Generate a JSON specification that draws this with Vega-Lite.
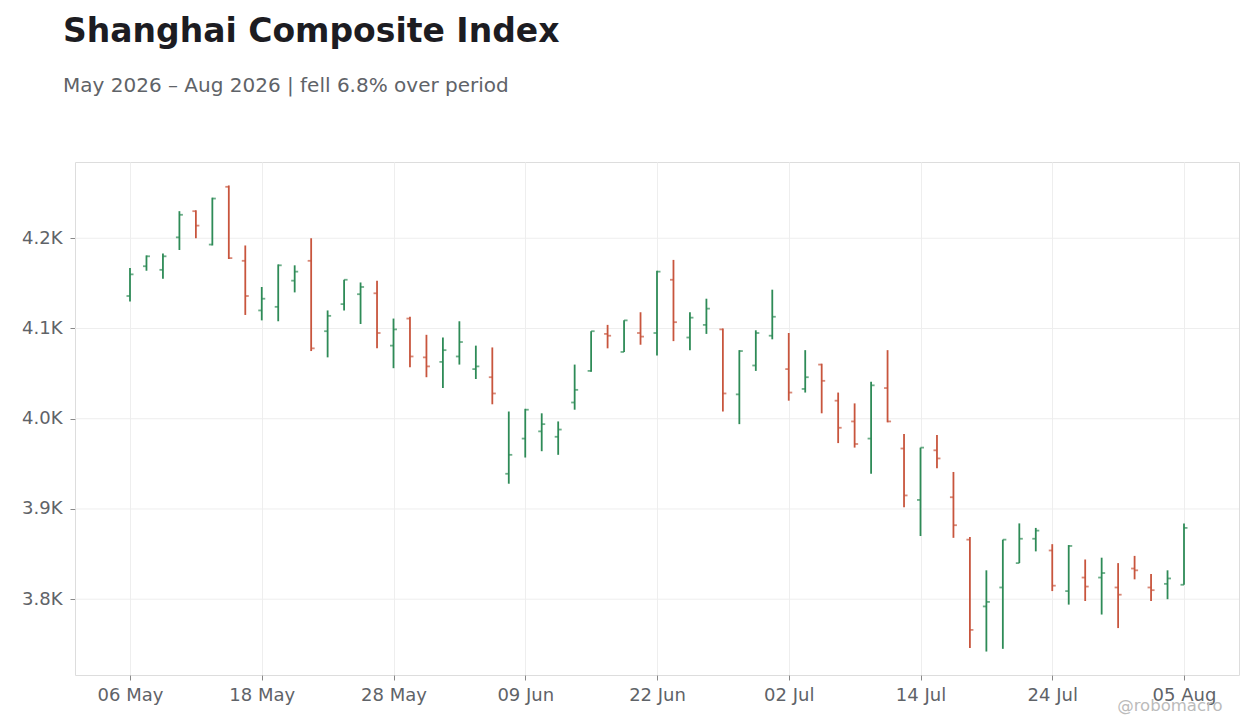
{
  "$schema": "https://vega.github.io/schema/vega-lite/v6.json",
  "width": 1164,
  "height": 513,
  "autosize": {"type": "none"},
  "padding": {"left": 75, "top": 162, "right": 21, "bottom": 53},
  "background": "white",
  "title": {
    "text": "Shanghai Composite Index",
    "subtitle": "May 2026 – Aug 2026 | fell 6.8% over period",
    "anchor": "start",
    "frame": "group",
    "dx": -12,
    "offset": 66,
    "font": "DejaVu Sans",
    "fontSize": 33,
    "fontWeight": "bold",
    "color": "#1c1c22",
    "subtitleFont": "DejaVu Sans",
    "subtitleFontSize": 20,
    "subtitleColor": "#5f6368",
    "subtitlePadding": 27
  },
  "datasets": {
    "gridlines": [
      {"level": 3800}, {"level": 3900}, {"level": 4000}, {"level": 4100}, {"level": 4200}
    ],
    "ohlc": [
      {"date": "2026-05-06", "open": 4136, "high": 4167, "low": 4130, "close": 4160},
      {"date": "2026-05-07", "open": 4169, "high": 4181, "low": 4164, "close": 4180},
      {"date": "2026-05-08", "open": 4165, "high": 4183, "low": 4155, "close": 4180},
      {"date": "2026-05-11", "open": 4201, "high": 4230, "low": 4187, "close": 4226},
      {"date": "2026-05-12", "open": 4230, "high": 4231, "low": 4200, "close": 4214},
      {"date": "2026-05-13", "open": 4193, "high": 4245, "low": 4192, "close": 4244},
      {"date": "2026-05-14", "open": 4257, "high": 4258.5, "low": 4177, "close": 4178},
      {"date": "2026-05-15", "open": 4175, "high": 4192, "low": 4115, "close": 4136},
      {"date": "2026-05-18", "open": 4120, "high": 4146, "low": 4109, "close": 4133},
      {"date": "2026-05-19", "open": 4124, "high": 4171, "low": 4108, "close": 4170},
      {"date": "2026-05-20", "open": 4153, "high": 4170, "low": 4140, "close": 4163},
      {"date": "2026-05-21", "open": 4175, "high": 4200, "low": 4075, "close": 4078},
      {"date": "2026-05-22", "open": 4097, "high": 4120, "low": 4068, "close": 4114},
      {"date": "2026-05-25", "open": 4127, "high": 4154, "low": 4120, "close": 4154},
      {"date": "2026-05-26", "open": 4138, "high": 4151, "low": 4105, "close": 4146},
      {"date": "2026-05-27", "open": 4139, "high": 4153, "low": 4078, "close": 4095},
      {"date": "2026-05-28", "open": 4081, "high": 4111, "low": 4056, "close": 4099},
      {"date": "2026-05-29", "open": 4111, "high": 4113, "low": 4057, "close": 4069},
      {"date": "2026-06-01", "open": 4068, "high": 4093, "low": 4046, "close": 4058},
      {"date": "2026-06-02", "open": 4063, "high": 4090, "low": 4034, "close": 4076},
      {"date": "2026-06-03", "open": 4069, "high": 4108, "low": 4060, "close": 4085},
      {"date": "2026-06-04", "open": 4055, "high": 4081, "low": 4044, "close": 4058},
      {"date": "2026-06-05", "open": 4046, "high": 4079, "low": 4016, "close": 4028},
      {"date": "2026-06-08", "open": 3939, "high": 4008, "low": 3928, "close": 3960},
      {"date": "2026-06-09", "open": 3978, "high": 4011, "low": 3957, "close": 4010},
      {"date": "2026-06-10", "open": 3986, "high": 4006, "low": 3964, "close": 3994},
      {"date": "2026-06-11", "open": 3980, "high": 3997, "low": 3960, "close": 3988},
      {"date": "2026-06-12", "open": 4018, "high": 4060, "low": 4010, "close": 4032},
      {"date": "2026-06-15", "open": 4053, "high": 4097, "low": 4052, "close": 4097},
      {"date": "2026-06-16", "open": 4094, "high": 4104, "low": 4078, "close": 4092},
      {"date": "2026-06-17", "open": 4074, "high": 4109, "low": 4074, "close": 4109},
      {"date": "2026-06-18", "open": 4095, "high": 4118, "low": 4082, "close": 4091},
      {"date": "2026-06-22", "open": 4095, "high": 4164, "low": 4070, "close": 4163},
      {"date": "2026-06-23", "open": 4154, "high": 4176, "low": 4086, "close": 4107},
      {"date": "2026-06-24", "open": 4090, "high": 4118, "low": 4076, "close": 4112},
      {"date": "2026-06-25", "open": 4104, "high": 4133, "low": 4094, "close": 4122},
      {"date": "2026-06-26", "open": 4099, "high": 4100, "low": 4008, "close": 4028},
      {"date": "2026-06-29", "open": 4027, "high": 4076, "low": 3994, "close": 4075},
      {"date": "2026-06-30", "open": 4059, "high": 4098, "low": 4053, "close": 4095},
      {"date": "2026-07-01", "open": 4092, "high": 4143, "low": 4088, "close": 4113},
      {"date": "2026-07-02", "open": 4055, "high": 4095, "low": 4020, "close": 4029},
      {"date": "2026-07-03", "open": 4033, "high": 4076, "low": 4029, "close": 4046},
      {"date": "2026-07-06", "open": 4060, "high": 4061, "low": 4006, "close": 4042},
      {"date": "2026-07-07", "open": 4020, "high": 4029, "low": 3973, "close": 3990},
      {"date": "2026-07-08", "open": 3997, "high": 4017, "low": 3968, "close": 3972},
      {"date": "2026-07-09", "open": 3978, "high": 4041, "low": 3939, "close": 4037},
      {"date": "2026-07-10", "open": 4034, "high": 4076, "low": 3996, "close": 3997},
      {"date": "2026-07-13", "open": 3967, "high": 3983, "low": 3902, "close": 3915},
      {"date": "2026-07-14", "open": 3910, "high": 3968, "low": 3870, "close": 3968},
      {"date": "2026-07-15", "open": 3965, "high": 3982, "low": 3945, "close": 3956},
      {"date": "2026-07-16", "open": 3913, "high": 3941, "low": 3868, "close": 3882},
      {"date": "2026-07-17", "open": 3866, "high": 3869, "low": 3746, "close": 3766},
      {"date": "2026-07-20", "open": 3792, "high": 3832, "low": 3742, "close": 3797},
      {"date": "2026-07-21", "open": 3813, "high": 3866, "low": 3745, "close": 3866},
      {"date": "2026-07-22", "open": 3840, "high": 3884, "low": 3840, "close": 3867},
      {"date": "2026-07-23", "open": 3867, "high": 3879, "low": 3853, "close": 3876},
      {"date": "2026-07-24", "open": 3854, "high": 3861, "low": 3809, "close": 3815},
      {"date": "2026-07-27", "open": 3809, "high": 3860, "low": 3794, "close": 3859},
      {"date": "2026-07-28", "open": 3824, "high": 3844, "low": 3798, "close": 3814},
      {"date": "2026-07-29", "open": 3824, "high": 3846, "low": 3783, "close": 3829},
      {"date": "2026-07-30", "open": 3813, "high": 3840, "low": 3768, "close": 3805},
      {"date": "2026-07-31", "open": 3834, "high": 3848, "low": 3822, "close": 3832},
      {"date": "2026-08-03", "open": 3813, "high": 3828, "low": 3798, "close": 3810},
      {"date": "2026-08-04", "open": 3817, "high": 3832, "low": 3800, "close": 3823},
      {"date": "2026-08-05", "open": 3816, "high": 3884, "low": 3816, "close": 3879}
    ]
  },
  "layer": [
    {
      "data": {"name": "gridlines"},
      "mark": {"type": "rule", "color": "#eeeeee", "strokeWidth": 1},
      "encoding": {
        "y": {
          "field": "level",
          "type": "quantitative",
          "scale": {"domain": [3716, 4284.5], "nice": false, "zero": false},
          "axis": {
            "values": [3800, 3900, 4000, 4100, 4200],
            "labelExpr": "replace(format(datum.value, '.2s'), 'k', 'K')",
            "labelFontSize": 18,
            "labelPadding": 8,
            "tickSize": 5,
            "grid": false,
            "title": null
          }
        }
      }
    },
    {
      "data": {"name": "ohlc"},
      "encoding": {
        "x": {
          "field": "date",
          "type": "ordinal",
          "scale": {"type": "point", "padding": 0, "range": [55, 1109]},
          "axis": {
            "values": ["2026-05-06", "2026-05-18", "2026-05-28", "2026-06-09", "2026-06-22", "2026-07-02", "2026-07-14", "2026-07-24", "2026-08-05"],
            "labelExpr": "utcFormat(toDate(datum.value), '%d %b')",
            "labelAngle": 0,
            "labelFontSize": 18,
            "labelPadding": 6,
            "tickSize": 5,
            "grid": true,
            "title": "@robomacro",
            "titleColor": "#bbbbbb",
            "titleFontSize": 16.5,
            "titleFontWeight": "normal",
            "titleAlign": "right",
            "titleBaseline": "alphabetic",
            "titleAnchor": "end",
            "titleX": 1147,
            "titleY": 35
          }
        },
        "color": {
          "condition": {"test": "datum.close >= datum.open", "value": "#2e8b57"},
          "value": "#c8553d"
        }
      },
      "layer": [
        {
          "mark": {"type": "rule", "strokeWidth": 1.8},
          "encoding": {
            "y": {"field": "low", "type": "quantitative", "axis": {"title": null, "grid": false}},
            "y2": {"field": "high"}
          }
        },
        {
          "mark": {"type": "tick", "orient": "horizontal", "size": 3.5, "thickness": 1.8, "xOffset": -1.75},
          "encoding": {"y": {"field": "open", "type": "quantitative", "axis": {"title": null, "grid": false}}}
        },
        {
          "mark": {"type": "tick", "orient": "horizontal", "size": 3.5, "thickness": 1.8, "xOffset": 1.75},
          "encoding": {"y": {"field": "close", "type": "quantitative", "axis": {"title": null, "grid": false}}}
        }
      ]
    }
  ],
  "config": {
    "font": "DejaVu Sans",
    "view": {"stroke": "#dddddd", "strokeWidth": 1},
    "axis": {
      "domain": false,
      "gridColor": "#eeeeee",
      "gridWidth": 1,
      "tickColor": "#888888",
      "labelColor": "#5f6368",
      "labelFont": "DejaVu Sans",
      "titleFont": "DejaVu Sans"
    }
  }
}
